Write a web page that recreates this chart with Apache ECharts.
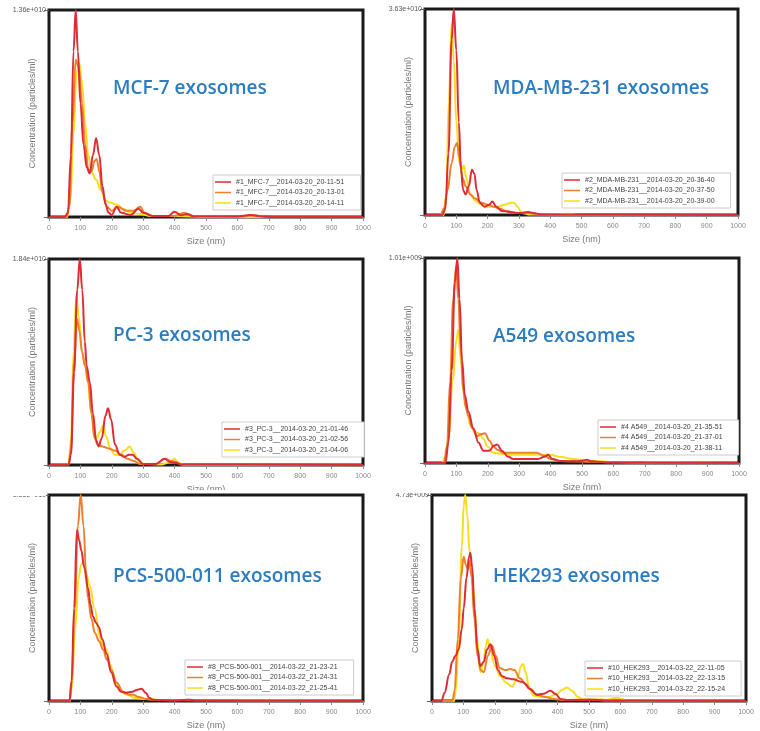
<!DOCTYPE html>
<html>
<head>
<meta charset="utf-8">
<script src="https://cdn.jsdelivr.net/npm/echarts@6/dist/echarts.min.js"></script>
<style>
html, body { margin: 0; padding: 0; background: #fff; }
#chart { width: 760px; height: 731px; }
</style>
</head>
<body>
<div id="chart"></div>
<script>
// NTA size distributions, 6 cell lines x 3 runs
// y values read as % of each panel's axis top
var panelTitles = ['MCF-7 exosomes', 'MDA-MB-231 exosomes', 'PC-3 exosomes', 'A549 exosomes', 'PCS-500-011 exosomes', 'HEK293 exosomes'];
var yTopLabels = ['1.36e+010', '3.63e+010', '1.84e+010', '1.01e+009', '1.56e+010', '4.73e+009'];
var yMax = [1.36e10, 3.63e10, 1.84e10, 1.01e9, 1.56e10, 4.73e9];
var xTicks = [0, 100, 200, 300, 400, 500, 600, 700, 800, 900, 1000];

var runNames = [
  ['#1_MFC-7__2014-03-20_20-11-51', '#1_MFC-7__2014-03-20_20-13-01', '#1_MFC-7__2014-03-20_20-14-11'],
  ['#2_MDA-MB-231__2014-03-20_20-36-40', '#2_MDA-MB-231__2014-03-20_20-37-50', '#2_MDA-MB-231__2014-03-20_20-39-00'],
  ['#3_PC-3__2014-03-20_21-01-46', '#3_PC-3__2014-03-20_21-02-56', '#3_PC-3__2014-03-20_21-04-06'],
  ['#4 A549__2014-03-20_21-35-51', '#4 A549__2014-03-20_21-37-01', '#4 A549__2014-03-20_21-38-11'],
  ['#8_PCS-500-001__2014-03-22_21-23-21', '#8_PCS-500-001__2014-03-22_21-24-31', '#8_PCS-500-001__2014-03-22_21-25-41'],
  ['#10_HEK293__2014-03-22_22-11-05', '#10_HEK293__2014-03-22_22-13-15', '#10_HEK293__2014-03-22_22-15-24']
];

var mcfRun1 = [[0,0],[50,0],[60,2],[70,30],[78,80],[85,100],[92,80],[100,55],[110,35],[120,24],[130,21],[140,30],[150,38],[160,30],[170,15],[180,6],[190,2],[200,1],[215,5],[230,2],[260,1],[285,4],[300,2],[330,0.5],[380,0.5],[400,2.5],[420,0.8],[440,1.5],[460,0.3],[600,0.3],[640,1],[680,0.3],[720,0],[1000,0]];
var mcfRun2 = [[0,0],[55,0],[65,5],[75,45],[85,76],[95,72],[105,55],[115,35],[125,23],[135,22],[145,27],[152,28],[160,22],[170,12],[185,5],[200,3],[220,5],[245,3],[270,3],[290,5],[305,2],[330,0.5],[400,0.5],[430,2],[460,0.5],[620,0.3],[650,0.8],[700,0],[1000,0]];
var mcfRun3 = [[0,0],[58,0],[68,8],[78,40],[88,70],[97,74],[105,65],[115,45],[125,30],[135,22],[150,18],[165,13],[180,8],[195,7],[215,6],[235,4],[260,2],[290,1.5],[320,0.5],[400,0.5],[500,0],[1000,0]];

var mdaRun1 = [[0,0],[55,0],[65,3],[75,30],[85,85],[92,100],[100,80],[108,45],[115,22],[122,12],[130,10],[140,14],[150,22],[158,20],[165,12],[175,6],[190,4],[205,5],[215,6.5],[228,4],[245,2],[270,1.5],[300,1],[330,1.5],[345,1],[370,0.3],[1000,0]];
var mdaRun2 = [[0,0],[50,0],[60,3],[72,12],[85,25],[95,33],[102,35],[110,28],[120,18],[130,14],[145,10],[160,8],[180,6],[200,5],[220,4],[240,3],[260,2],[290,1],[330,1],[360,0.5],[400,0],[1000,0]];
var mdaRun3 = [[0,0],[60,0],[68,10],[76,55],[85,93],[92,75],[100,45],[110,25],[118,22],[124,24],[132,18],[145,10],[160,7],[180,5],[200,4],[230,4],[255,5],[275,6],[285,6],[295,4],[310,1],[330,0.3],[420,0.3],[460,0.6],[500,0],[1000,0]];

var pc3Run1 = [[0,0],[62,0],[70,5],[80,45],[90,85],[98,100],[106,85],[114,60],[120,48],[130,40],[140,25],[150,12],[158,9],[168,13],[180,24],[188,27.5],[198,22],[210,10],[225,5],[240,4],[255,5],[267,5],[280,3],[300,0.5],[340,0.5],[368,3],[385,1.5],[405,1],[420,0.3],[1000,0]];
var pc3Run2 = [[0,0],[62,0],[70,8],[80,50],[89,71],[97,65],[105,55],[115,48],[125,40],[135,25],[145,13],[155,10],[170,9],[190,8],[210,7],[230,5],[250,3],[270,2],[290,0.5],[340,0.5],[370,3],[390,2],[405,1.5],[420,0.3],[1000,0]];
var pc3Run3 = [[0,0],[62,0],[70,12],[78,55],[87,82],[95,72],[105,55],[115,48],[124,40],[135,25],[145,15],[152,13],[162,16],[172,19],[182,14],[195,8],[210,5],[225,5],[240,7],[257,9],[270,6],[285,2],[300,0.5],[360,0.3],[385,1.5],[400,3],[412,1],[430,0],[1000,0]];

var a549Run1 = [[0,0],[65,0],[75,10],[85,45],[95,88],[103,100],[110,80],[118,50],[127,33],[138,25],[154,17],[170,10],[186,6],[205,6],[220,8.5],[230,9],[245,6],[265,3],[281,2],[320,2],[360,2],[380,3],[392,4],[405,2],[430,1],[480,0.8],[505,1.2],[515,1.6],[530,0.8],[580,0.3],[700,0.2],[1000,0]];
var a549Run2 = [[0,0],[60,0],[70,8],[80,40],[90,80],[99,96],[106,80],[114,55],[122,35],[130,27],[138,23],[150,17],[165,13],[178,14],[191,14.5],[205,11],[218,8],[230,6.5],[250,5],[281,5],[320,5],[355,5],[380,3.5],[400,2],[430,1],[470,0.8],[530,0.6],[600,0.4],[700,0.2],[1000,0]];
var a549Run3 = [[0,0],[55,0],[64,3],[75,12],[88,40],[100,60],[106,65],[114,50],[122,35],[132,26],[145,18],[160,15],[172,14.5],[185,12],[200,8],[217,5],[240,4.5],[280,4],[320,4],[360,4],[400,4],[430,3],[470,2],[520,1.2],[560,0.8],[600,0.5],[700,0.3],[800,0.2],[1000,0]];

var pcsRun1 = [[0,0],[65,0],[72,10],[80,45],[89,83],[96,78],[103,73],[112,65],[124,55],[132,47],[140,41],[150,38],[158,36],[170,30],[183,23],[198,14],[215,7],[230,4.5],[245,4],[265,4.5],[282,5.5],[295,6],[308,4],[320,1.5],[332,0.5],[400,0.3],[430,0.5],[449,0.6],[470,0.2],[1000,0]];
var pcsRun2 = [[0,0],[65,0],[72,8],[82,45],[92,85],[101,100],[110,85],[118,62],[124,50],[135,40],[146,33],[160,29],[172,25],[185,20],[199,15],[215,9],[236,4.5],[255,3],[268,3],[285,2],[310,1],[350,0.5],[1000,0]];
var pcsRun3 = [[0,0],[66,0],[73,6],[83,35],[95,60],[102,66],[109,68],[118,62],[130,56],[145,45],[162,31],[172,27],[183,25],[195,18],[210,9],[228,5],[247,3],[275,1.5],[310,1],[360,0.5],[1000,0]];

var hekRun1 = [[0,0],[30,0],[40,4],[55,13],[64,19],[75,22],[85,25],[95,35],[101,45],[110,60],[118,70],[122,72],[128,65],[135,45],[145,25],[154,17],[165,19],[175,25],[186,27.5],[198,22],[210,15],[223,12],[240,11],[260,10.5],[280,9.5],[292,9],[310,6],[334,3],[355,3.5],[377,5],[393,3.5],[409,1],[430,0.5],[520,0.5],[560,0.2],[1000,0]];
var hekRun2 = [[0,0],[65,0],[72,5],[82,30],[92,60],[101,70],[108,66],[114,64],[120,68],[126,60],[135,40],[145,22],[155,15],[165,14],[178,22],[191,27],[203,22],[215,16],[234,15],[250,15.5],[262,15],[280,11],[300,8],[313,6],[335,3],[360,2],[388,1],[420,0.5],[500,0.8],[520,0.6],[560,0.2],[1000,0]];
var hekRun3 = [[0,0],[70,0],[76,5],[85,30],[95,75],[101,95],[106,100],[112,90],[120,72],[133,54],[142,32],[154,14],[163,18],[172,27],[177,30],[185,26],[200,17],[218,12],[235,9],[255,7],[272,11],[284,17],[290,18],[298,14],[310,6],[324,2.5],[345,2],[370,2],[395,3],[415,5.5],[430,6.5],[445,5],[465,2],[483,0.5],[520,0.8],[560,0.6],[580,1.4],[590,1.6],[605,1],[621,0.2],[1000,0]];

var panelRuns = [
  [mcfRun1, mcfRun2, mcfRun3],
  [mdaRun1, mdaRun2, mdaRun3],
  [pc3Run1, pc3Run2, pc3Run3],
  [a549Run1, a549Run2, a549Run3],
  [pcsRun1, pcsRun2, pcsRun3],
  [hekRun1, hekRun2, hekRun3]
];

var runColors = ['#dc2c35', '#ee7f2d', '#f7de1c'];

// layout: plot frames, titles, legend boxes (px)
var frames = [
  {left: 49, top: 10, width: 314, height: 207},
  {left: 425, top: 9, width: 313, height: 206},
  {left: 49, top: 259, width: 314, height: 206},
  {left: 425, top: 258, width: 314, height: 205},
  {left: 49, top: 495, width: 314, height: 206},
  {left: 432, top: 495, width: 314, height: 207}
];
var titlePos = [[113, 79], [493, 79], [113, 326], [493, 327], [113, 567], [493, 567]];
var legendPos = [[213, 175], [562, 173], [222, 422], [598, 420], [185, 660], [585, 661]];

var myChart = echarts.init(document.getElementById('chart'));

var grid = [], xAxis = [], yAxis = [], series = [], title = [], legend = [];

frames.forEach(function (f, i) {
  grid.push({
    left: f.left, top: f.top, width: f.width, height: f.height,
    show: true, backgroundColor: '#fff', borderColor: '#1a1a1a', borderWidth: 3
  });
  xAxis.push({
    gridIndex: i, type: 'value', min: 0, max: 1000, interval: 100,
    name: 'Size (nm)', nameLocation: 'middle', nameGap: 20, nameMoveOverlap: false,
    nameTextStyle: {fontSize: 9, color: '#777', fontFamily: 'Liberation Sans'},
    axisLine: {show: false},
    axisTick: {show: true, length: 4, lineStyle: {color: '#888'}},
    axisLabel: {fontSize: 7, color: '#888', margin: 8, fontFamily: 'Liberation Sans',
      formatter: function (v) { return xTicks.indexOf(v) >= 0 ? String(v) : ''; }},
    splitLine: {show: false}
  });
  yAxis.push({
    gridIndex: i, type: 'value', min: 0, max: yMax[i], interval: yMax[i],
    name: 'Concentration (particles/ml)', nameLocation: 'middle', nameGap: 12, nameMoveOverlap: false,
    nameTextStyle: {fontSize: 9, color: '#777', fontFamily: 'Liberation Sans'},
    axisLine: {show: false},
    axisTick: {show: true, length: 5, lineStyle: {color: '#666'}},
    axisLabel: {fontSize: 7, color: '#555', margin: 3, fontFamily: 'Liberation Sans',
      formatter: function (v) { return v > 0 ? yTopLabels[i] : ''; }},
    splitLine: {show: false}
  });
  title.push({
    text: panelTitles[i], left: titlePos[i][0], top: titlePos[i][1], padding: 0,
    textStyle: {fontSize: 19, fontWeight: 600, color: '#2b7cc1', fontFamily: 'Open Sans'}
  });
  legend.push({
    orient: 'vertical', left: legendPos[i][0], top: legendPos[i][1],
    data: runNames[i], icon: 'rect', itemWidth: 16, itemHeight: 1.5, itemGap: 2.5,
    padding: [3, 16, 3, 2], borderColor: '#ccc', borderWidth: 1, backgroundColor: '#fff',
    textStyle: {fontSize: 7, color: '#444', fontFamily: 'Liberation Sans', lineHeight: 8},
    selectedMode: false
  });
  // yellow first so red sits on top
  for (var j = 2; j >= 0; j--) {
    series.push({
      type: 'line', name: runNames[i][j], xAxisIndex: i, yAxisIndex: i,
      data: panelRuns[i][j].map(function (p) { return [p[0], p[1] / 100 * yMax[i]]; }),
      symbol: 'none', smooth: 0.4, smoothMonotone: 'x',
      lineStyle: {width: 2, color: runColors[j]},
      itemStyle: {color: runColors[j]},
      z: 3
    });
  }
});

myChart.setOption({
  animation: false,
  backgroundColor: '#fff',
  title: title,
  legend: legend,
  grid: grid,
  xAxis: xAxis,
  yAxis: yAxis,
  series: series,
  graphic: [
    // the bottom row overlaps the middle row's x-axis titles
    {type: 'rect', left: 0, top: 490, shape: {width: 760, height: 3}, style: {fill: '#fff'}, z: 100},
    {type: 'rect', left: 0, top: 490, shape: {width: 46, height: 6}, style: {fill: '#fff'}, z: 100}
  ]
});
</script>
</body>
</html>
